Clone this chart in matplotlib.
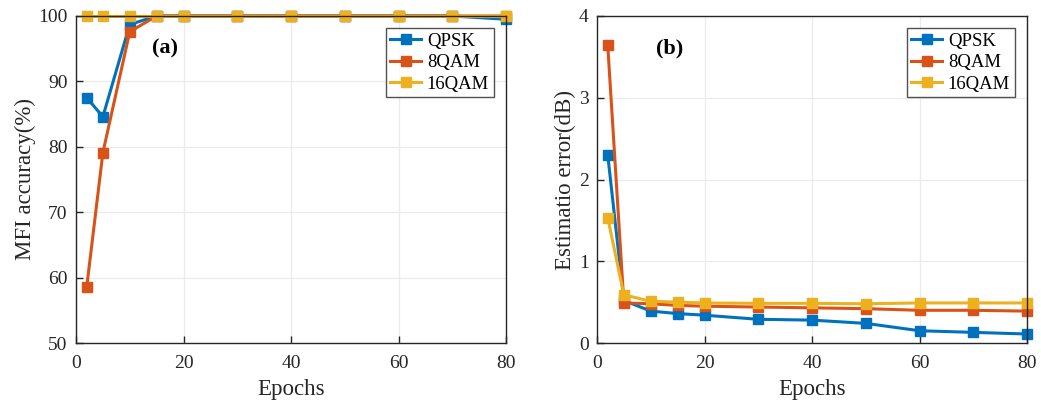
import matplotlib
matplotlib.use("Agg")
import matplotlib.pyplot as plt

epochs = [2, 5, 10, 15, 20, 30, 40, 50, 60, 70, 80]
series_names = ["QPSK", "8QAM", "16QAM"]

acc_qpsk = [87.5, 84.6, 98.7, 100, 100, 100, 100, 100, 100, 100, 99.5]
acc_8qam = [58.6, 79.1, 97.6, 100, 100, 100, 100, 100, 100, 100, 100]
acc_16qam = [100, 100, 100, 100, 100, 100, 100, 100, 100, 100, 100]

err_qpsk = [2.30, 0.52, 0.39, 0.36, 0.34, 0.29, 0.28, 0.24, 0.15, 0.13, 0.11]
err_8qam = [3.64, 0.49, 0.48, 0.46, 0.45, 0.44, 0.43, 0.42, 0.40, 0.40, 0.39]
err_16qam = [1.53, 0.59, 0.51, 0.50, 0.49, 0.485, 0.485, 0.48, 0.49, 0.49, 0.49]

colors = ["#0072BD", "#D95319", "#EDB120"]

plt.rcParams['font.family'] = ['Liberation Serif', 'DejaVu Serif']
plt.rcParams['mathtext.fontset'] = 'stix'

fig = plt.figure(figsize=(10.41, 4.03), dpi=100)
W, H = 1041, 403
ax1 = fig.add_axes([76 / W, 1 - 343 / H, 430 / W, 327 / H])
ax2 = fig.add_axes([597 / W, 1 - 343 / H, 430 / W, 327 / H])

TXT = '#262626'


def style(ax):
    ax.grid(True, color='#ebebeb', linewidth=0.9)
    ax.set_axisbelow(True)
    ax.tick_params(direction='in', length=5, width=1, labelsize=14, colors=TXT,
                   top=False, right=False)
    ax.tick_params(axis='x', pad=9)
    ax.tick_params(axis='y', pad=6)
    for s in ax.spines.values():
        s.set_linewidth(1.0)
        s.set_color(TXT)
    ax.set_xlim(0, 80)
    ax.set_xticks([0, 20, 40, 60, 80])
    ax.set_xlabel('Epochs', fontsize=16.5, color=TXT, labelpad=5)


for ax, data in [(ax1, [acc_qpsk, acc_8qam, acc_16qam]), (ax2, [err_qpsk, err_8qam, err_16qam])]:
    for name, vals, c in zip(series_names, data, colors):
        ax.plot(epochs, vals, '-s', color=c, linewidth=2.2, markersize=6.5,
                markerfacecolor=c, markeredgecolor=c, label=name, clip_on=False)
    style(ax)
    leg = ax.legend(loc='upper right', fontsize=13.5, frameon=True, fancybox=False,
                    edgecolor=TXT, borderpad=0.25, labelspacing=0.22,
                    handlelength=1.65, handletextpad=0.3, borderaxespad=0.65)
    leg.get_frame().set_linewidth(1.0)

ax1.set_ylim(50, 100)
ax1.set_yticks([50, 60, 70, 80, 90, 100])
ax1.set_ylabel('MFI accuracy(%)', fontsize=16.5, color=TXT, labelpad=1.5)
ax1.text(0.207, 0.902, '(a)', transform=ax1.transAxes, fontsize=16, fontweight='bold',
         ha='center', va='center')

ax2.set_ylim(0, 4)
ax2.set_yticks([0, 1, 2, 3, 4])
ax2.set_ylabel('Estimatio error(dB)', fontsize=16.5, color=TXT, labelpad=2)
ax2.text(0.17, 0.902, '(b)', transform=ax2.transAxes, fontsize=16, fontweight='bold',
         ha='center', va='center')

fig.savefig('out.png', dpi=100)
